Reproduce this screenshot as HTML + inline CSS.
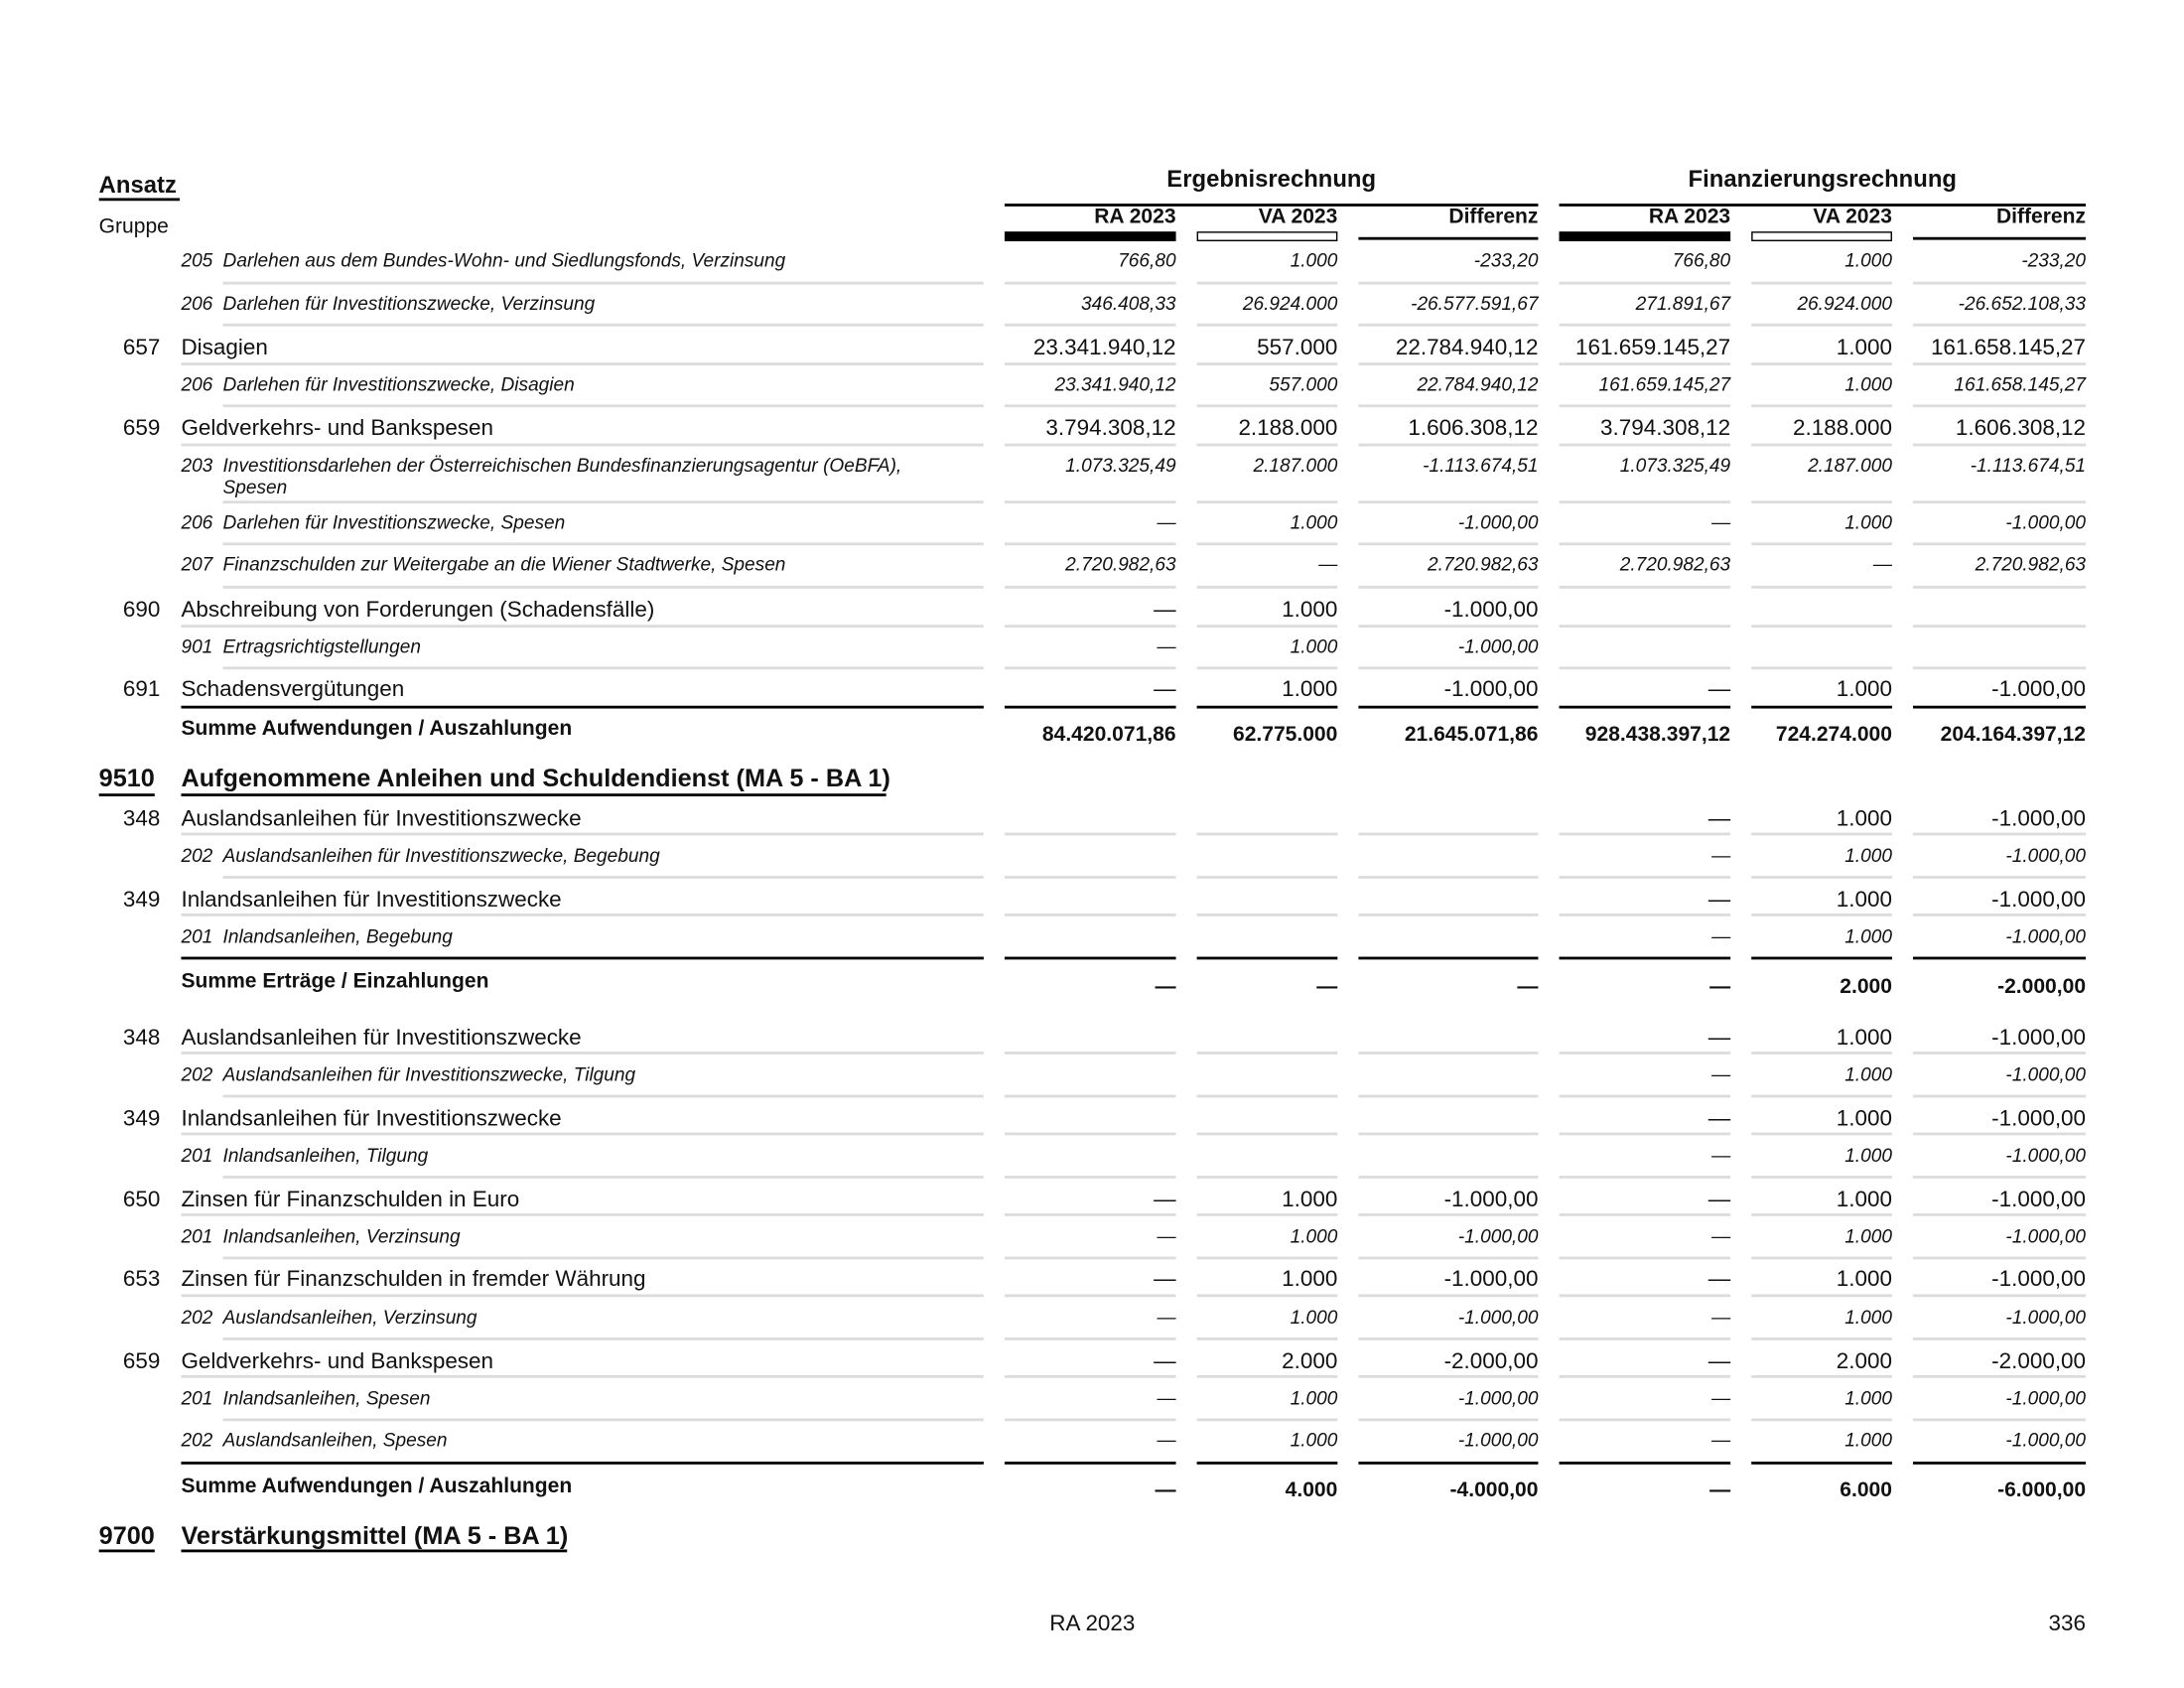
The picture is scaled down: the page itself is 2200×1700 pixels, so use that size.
<!DOCTYPE html>
<html><head><meta charset="utf-8"><style>
html,body{margin:0;padding:0;background:#fff;}
body{width:2200px;height:1700px;overflow:hidden;position:relative;}
#p{position:absolute;left:0;top:0;width:1552px;height:1200px;transform:scale(1.4035,1.4046);transform-origin:0 0;font-family:"Liberation Sans",Arial,sans-serif;color:#111;}
.t{position:absolute;white-space:nowrap;line-height:20px;}
.R{position:absolute;left:0;width:1552px;height:20px;line-height:20px;}
.R span{position:absolute;top:0;text-align:right;white-space:nowrap;}
.n1{left:701px;width:143px}.n2{left:839px;width:121px}.n3{left:955px;width:149px}
.n4{left:1099px;width:143px}.n5{left:1237px;width:121px}.n6{left:1353px;width:144px}
.m{font-size:16px}.s{font-size:13.6px;font-style:italic}.b{font-size:15px;font-weight:bold}
.cd{position:absolute;text-align:right;width:55px;left:60px}
.L{position:absolute;left:0;width:1552px;height:2px}
.L i{position:absolute;top:0;height:2px;background:#dcdcdc}
.L.k i{background:#000}
.a{left:130px;width:576px}.as{left:160px;width:546px}
.c1{left:721px;width:123px}.c2{left:859px;width:101px}.c3{left:975px;width:129px}
.c4{left:1119px;width:123px}.c5{left:1257px;width:101px}.c6{left:1373px;width:124px}
.u{position:absolute;height:2px;background:#000}
</style></head><body><div id="p">
<div class="t" style="left:71px;top:123px;font-size:17px;font-weight:bold">Ansatz</div>
<div class="u" style="left:71px;top:142px;width:58px"></div>
<div class="t" style="left:71px;top:153px;font-size:15px">Gruppe</div>
<div class="t" style="left:721px;width:383px;text-align:center;top:119px;font-size:17px;font-weight:bold">Ergebnisrechnung</div>
<div class="t" style="left:1119px;width:378px;text-align:center;top:119px;font-size:17px;font-weight:bold">Finanzierungsrechnung</div>
<div class="u" style="left:721px;top:146px;width:383px"></div>
<div class="u" style="left:1119px;top:146px;width:378px"></div>
<div class="R b" style="top:146px"><span class="n1">RA 2023</span><span class="n2">VA 2023</span><span class="n3">Differenz</span><span class="n4">RA 2023</span><span class="n5">VA 2023</span><span class="n6">Differenz</span></div>
<div class="u" style="left:721px;top:166px;width:123px;height:7px"></div>
<div class="u" style="left:859px;top:166px;width:99px;height:5px;background:#fff;border:1px solid #000"></div>
<div class="u" style="left:975px;top:170px;width:129px"></div>
<div class="u" style="left:1119px;top:166px;width:123px;height:7px"></div>
<div class="u" style="left:1257px;top:166px;width:99px;height:5px;background:#fff;border:1px solid #000"></div>
<div class="u" style="left:1373px;top:170px;width:124px"></div>

<div class="t s" style="left:130px;top:177px">205</div><div class="t s" style="left:160px;top:177px">Darlehen aus dem Bundes-Wohn- und Siedlungsfonds, Verzinsung</div>
<div class="R s" style="top:177px"><span class="n1">766,80</span><span class="n2">1.000</span><span class="n3">-233,20</span><span class="n4">766,80</span><span class="n5">1.000</span><span class="n6">-233,20</span></div>
<div class="L" style="top:202px"><i class="as"></i><i class="c1"></i><i class="c2"></i><i class="c3"></i><i class="c4"></i><i class="c5"></i><i class="c6"></i></div>
<div class="t s" style="left:130px;top:208px">206</div><div class="t s" style="left:160px;top:208px">Darlehen für Investitionszwecke, Verzinsung</div>
<div class="R s" style="top:208px"><span class="n1">346.408,33</span><span class="n2">26.924.000</span><span class="n3">-26.577.591,67</span><span class="n4">271.891,67</span><span class="n5">26.924.000</span><span class="n6">-26.652.108,33</span></div>
<div class="L" style="top:232px"><i class="as"></i><i class="c1"></i><i class="c2"></i><i class="c3"></i><i class="c4"></i><i class="c5"></i><i class="c6"></i></div>
<div class="t m cd" style="top:240px">657</div><div class="t m" style="left:130px;top:240px">Disagien</div>
<div class="R m" style="top:240px"><span class="n1">23.341.940,12</span><span class="n2">557.000</span><span class="n3">22.784.940,12</span><span class="n4">161.659.145,27</span><span class="n5">1.000</span><span class="n6">161.658.145,27</span></div>
<div class="L" style="top:260px"><i class="a"></i><i class="c1"></i><i class="c2"></i><i class="c3"></i><i class="c4"></i><i class="c5"></i><i class="c6"></i></div>
<div class="t s" style="left:130px;top:266px">206</div><div class="t s" style="left:160px;top:266px">Darlehen für Investitionszwecke, Disagien</div>
<div class="R s" style="top:266px"><span class="n1">23.341.940,12</span><span class="n2">557.000</span><span class="n3">22.784.940,12</span><span class="n4">161.659.145,27</span><span class="n5">1.000</span><span class="n6">161.658.145,27</span></div>
<div class="L" style="top:290px"><i class="as"></i><i class="c1"></i><i class="c2"></i><i class="c3"></i><i class="c4"></i><i class="c5"></i><i class="c6"></i></div>
<div class="t m cd" style="top:298px">659</div><div class="t m" style="left:130px;top:298px">Geldverkehrs- und Bankspesen</div>
<div class="R m" style="top:298px"><span class="n1">3.794.308,12</span><span class="n2">2.188.000</span><span class="n3">1.606.308,12</span><span class="n4">3.794.308,12</span><span class="n5">2.188.000</span><span class="n6">1.606.308,12</span></div>
<div class="L" style="top:318px"><i class="a"></i><i class="c1"></i><i class="c2"></i><i class="c3"></i><i class="c4"></i><i class="c5"></i><i class="c6"></i></div>
<div class="t s" style="left:130px;top:324px">203</div><div class="t s" style="left:160px;top:324px">Investitionsdarlehen der Österreichischen Bundesfinanzierungsagentur (OeBFA),</div>
<div class="t s" style="left:160px;top:340px">Spesen</div>
<div class="R s" style="top:324px"><span class="n1">1.073.325,49</span><span class="n2">2.187.000</span><span class="n3">-1.113.674,51</span><span class="n4">1.073.325,49</span><span class="n5">2.187.000</span><span class="n6">-1.113.674,51</span></div>
<div class="L" style="top:359px"><i class="as"></i><i class="c1"></i><i class="c2"></i><i class="c3"></i><i class="c4"></i><i class="c5"></i><i class="c6"></i></div>
<div class="t s" style="left:130px;top:365px">206</div><div class="t s" style="left:160px;top:365px">Darlehen für Investitionszwecke, Spesen</div>
<div class="R s" style="top:365px"><span class="n1">—</span><span class="n2">1.000</span><span class="n3">-1.000,00</span><span class="n4">—</span><span class="n5">1.000</span><span class="n6">-1.000,00</span></div>
<div class="L" style="top:389px"><i class="as"></i><i class="c1"></i><i class="c2"></i><i class="c3"></i><i class="c4"></i><i class="c5"></i><i class="c6"></i></div>
<div class="t s" style="left:130px;top:395px">207</div><div class="t s" style="left:160px;top:395px">Finanzschulden zur Weitergabe an die Wiener Stadtwerke, Spesen</div>
<div class="R s" style="top:395px"><span class="n1">2.720.982,63</span><span class="n2">—</span><span class="n3">2.720.982,63</span><span class="n4">2.720.982,63</span><span class="n5">—</span><span class="n6">2.720.982,63</span></div>
<div class="L" style="top:420px"><i class="as"></i><i class="c1"></i><i class="c2"></i><i class="c3"></i><i class="c4"></i><i class="c5"></i><i class="c6"></i></div>
<div class="t m cd" style="top:428px">690</div><div class="t m" style="left:130px;top:428px">Abschreibung von Forderungen (Schadensfälle)</div>
<div class="R m" style="top:428px"><span class="n1">—</span><span class="n2">1.000</span><span class="n3">-1.000,00</span></div>
<div class="L" style="top:448px"><i class="a"></i><i class="c1"></i><i class="c2"></i><i class="c3"></i><i class="c4"></i><i class="c5"></i><i class="c6"></i></div>
<div class="t s" style="left:130px;top:454px">901</div><div class="t s" style="left:160px;top:454px">Ertragsrichtigstellungen</div>
<div class="R s" style="top:454px"><span class="n1">—</span><span class="n2">1.000</span><span class="n3">-1.000,00</span></div>
<div class="L" style="top:478px"><i class="as"></i><i class="c1"></i><i class="c2"></i><i class="c3"></i><i class="c4"></i><i class="c5"></i><i class="c6"></i></div>
<div class="t m cd" style="top:485px">691</div><div class="t m" style="left:130px;top:485px">Schadensvergütungen</div>
<div class="R m" style="top:485px"><span class="n1">—</span><span class="n2">1.000</span><span class="n3">-1.000,00</span><span class="n4">—</span><span class="n5">1.000</span><span class="n6">-1.000,00</span></div>
<div class="L k" style="top:506px"><i class="a"></i><i class="c1"></i><i class="c2"></i><i class="c3"></i><i class="c4"></i><i class="c5"></i><i class="c6"></i></div>
<div class="t b" style="left:130px;top:513px">Summe Aufwendungen / Auszahlungen</div>
<div class="R b" style="top:517px"><span class="n1">84.420.071,86</span><span class="n2">62.775.000</span><span class="n3">21.645.071,86</span><span class="n4">928.438.397,12</span><span class="n5">724.274.000</span><span class="n6">204.164.397,12</span></div>
<div class="t" style="left:71px;top:548px;font-size:18px;font-weight:bold">9510</div>
<div class="t" style="left:130px;top:548px;font-size:18px;font-weight:bold">Aufgenommene Anleihen und Schuldendienst (MA 5 - BA 1)</div>
<div class="u" style="left:71px;top:569px;width:40px"></div>
<div class="u" style="left:130px;top:569px;width:506px"></div>
<div class="t m cd" style="top:578px">348</div><div class="t m" style="left:130px;top:578px">Auslandsanleihen für Investitionszwecke</div>
<div class="R m" style="top:578px"><span class="n4">—</span><span class="n5">1.000</span><span class="n6">-1.000,00</span></div>
<div class="L" style="top:597px"><i class="a"></i><i class="c1"></i><i class="c2"></i><i class="c3"></i><i class="c4"></i><i class="c5"></i><i class="c6"></i></div>
<div class="t s" style="left:130px;top:604px">202</div><div class="t s" style="left:160px;top:604px">Auslandsanleihen für Investitionszwecke, Begebung</div>
<div class="R s" style="top:604px"><span class="n4">—</span><span class="n5">1.000</span><span class="n6">-1.000,00</span></div>
<div class="L" style="top:628px"><i class="as"></i><i class="c1"></i><i class="c2"></i><i class="c3"></i><i class="c4"></i><i class="c5"></i><i class="c6"></i></div>
<div class="t m cd" style="top:636px">349</div><div class="t m" style="left:130px;top:636px">Inlandsanleihen für Investitionszwecke</div>
<div class="R m" style="top:636px"><span class="n4">—</span><span class="n5">1.000</span><span class="n6">-1.000,00</span></div>
<div class="L" style="top:655px"><i class="a"></i><i class="c1"></i><i class="c2"></i><i class="c3"></i><i class="c4"></i><i class="c5"></i><i class="c6"></i></div>
<div class="t s" style="left:130px;top:662px">201</div><div class="t s" style="left:160px;top:662px">Inlandsanleihen, Begebung</div>
<div class="R s" style="top:662px"><span class="n4">—</span><span class="n5">1.000</span><span class="n6">-1.000,00</span></div>
<div class="L k" style="top:686px"><i class="a"></i><i class="c1"></i><i class="c2"></i><i class="c3"></i><i class="c4"></i><i class="c5"></i><i class="c6"></i></div>
<div class="t b" style="left:130px;top:694px">Summe Erträge / Einzahlungen</div>
<div class="R b" style="top:698px"><span class="n1">—</span><span class="n2">—</span><span class="n3">—</span><span class="n4">—</span><span class="n5">2.000</span><span class="n6">-2.000,00</span></div>
<div class="t m cd" style="top:735px">348</div><div class="t m" style="left:130px;top:735px">Auslandsanleihen für Investitionszwecke</div>
<div class="R m" style="top:735px"><span class="n4">—</span><span class="n5">1.000</span><span class="n6">-1.000,00</span></div>
<div class="L" style="top:754px"><i class="a"></i><i class="c1"></i><i class="c2"></i><i class="c3"></i><i class="c4"></i><i class="c5"></i><i class="c6"></i></div>
<div class="t s" style="left:130px;top:761px">202</div><div class="t s" style="left:160px;top:761px">Auslandsanleihen für Investitionszwecke, Tilgung</div>
<div class="R s" style="top:761px"><span class="n4">—</span><span class="n5">1.000</span><span class="n6">-1.000,00</span></div>
<div class="L" style="top:785px"><i class="as"></i><i class="c1"></i><i class="c2"></i><i class="c3"></i><i class="c4"></i><i class="c5"></i><i class="c6"></i></div>
<div class="t m cd" style="top:793px">349</div><div class="t m" style="left:130px;top:793px">Inlandsanleihen für Investitionszwecke</div>
<div class="R m" style="top:793px"><span class="n4">—</span><span class="n5">1.000</span><span class="n6">-1.000,00</span></div>
<div class="L" style="top:812px"><i class="a"></i><i class="c1"></i><i class="c2"></i><i class="c3"></i><i class="c4"></i><i class="c5"></i><i class="c6"></i></div>
<div class="t s" style="left:130px;top:819px">201</div><div class="t s" style="left:160px;top:819px">Inlandsanleihen, Tilgung</div>
<div class="R s" style="top:819px"><span class="n4">—</span><span class="n5">1.000</span><span class="n6">-1.000,00</span></div>
<div class="L" style="top:843px"><i class="as"></i><i class="c1"></i><i class="c2"></i><i class="c3"></i><i class="c4"></i><i class="c5"></i><i class="c6"></i></div>
<div class="t m cd" style="top:851px">650</div><div class="t m" style="left:130px;top:851px">Zinsen für Finanzschulden in Euro</div>
<div class="R m" style="top:851px"><span class="n1">—</span><span class="n2">1.000</span><span class="n3">-1.000,00</span><span class="n4">—</span><span class="n5">1.000</span><span class="n6">-1.000,00</span></div>
<div class="L" style="top:870px"><i class="a"></i><i class="c1"></i><i class="c2"></i><i class="c3"></i><i class="c4"></i><i class="c5"></i><i class="c6"></i></div>
<div class="t s" style="left:130px;top:877px">201</div><div class="t s" style="left:160px;top:877px">Inlandsanleihen, Verzinsung</div>
<div class="R s" style="top:877px"><span class="n1">—</span><span class="n2">1.000</span><span class="n3">-1.000,00</span><span class="n4">—</span><span class="n5">1.000</span><span class="n6">-1.000,00</span></div>
<div class="L" style="top:901px"><i class="as"></i><i class="c1"></i><i class="c2"></i><i class="c3"></i><i class="c4"></i><i class="c5"></i><i class="c6"></i></div>
<div class="t m cd" style="top:908px">653</div><div class="t m" style="left:130px;top:908px">Zinsen für Finanzschulden in fremder Währung</div>
<div class="R m" style="top:908px"><span class="n1">—</span><span class="n2">1.000</span><span class="n3">-1.000,00</span><span class="n4">—</span><span class="n5">1.000</span><span class="n6">-1.000,00</span></div>
<div class="L" style="top:928px"><i class="a"></i><i class="c1"></i><i class="c2"></i><i class="c3"></i><i class="c4"></i><i class="c5"></i><i class="c6"></i></div>
<div class="t s" style="left:130px;top:935px">202</div><div class="t s" style="left:160px;top:935px">Auslandsanleihen, Verzinsung</div>
<div class="R s" style="top:935px"><span class="n1">—</span><span class="n2">1.000</span><span class="n3">-1.000,00</span><span class="n4">—</span><span class="n5">1.000</span><span class="n6">-1.000,00</span></div>
<div class="L" style="top:959px"><i class="as"></i><i class="c1"></i><i class="c2"></i><i class="c3"></i><i class="c4"></i><i class="c5"></i><i class="c6"></i></div>
<div class="t m cd" style="top:967px">659</div><div class="t m" style="left:130px;top:967px">Geldverkehrs- und Bankspesen</div>
<div class="R m" style="top:967px"><span class="n1">—</span><span class="n2">2.000</span><span class="n3">-2.000,00</span><span class="n4">—</span><span class="n5">2.000</span><span class="n6">-2.000,00</span></div>
<div class="L" style="top:986px"><i class="a"></i><i class="c1"></i><i class="c2"></i><i class="c3"></i><i class="c4"></i><i class="c5"></i><i class="c6"></i></div>
<div class="t s" style="left:130px;top:993px">201</div><div class="t s" style="left:160px;top:993px">Inlandsanleihen, Spesen</div>
<div class="R s" style="top:993px"><span class="n1">—</span><span class="n2">1.000</span><span class="n3">-1.000,00</span><span class="n4">—</span><span class="n5">1.000</span><span class="n6">-1.000,00</span></div>
<div class="L" style="top:1017px"><i class="as"></i><i class="c1"></i><i class="c2"></i><i class="c3"></i><i class="c4"></i><i class="c5"></i><i class="c6"></i></div>
<div class="t s" style="left:130px;top:1023px">202</div><div class="t s" style="left:160px;top:1023px">Auslandsanleihen, Spesen</div>
<div class="R s" style="top:1023px"><span class="n1">—</span><span class="n2">1.000</span><span class="n3">-1.000,00</span><span class="n4">—</span><span class="n5">1.000</span><span class="n6">-1.000,00</span></div>
<div class="L k" style="top:1048px"><i class="a"></i><i class="c1"></i><i class="c2"></i><i class="c3"></i><i class="c4"></i><i class="c5"></i><i class="c6"></i></div>
<div class="t b" style="left:130px;top:1056px">Summe Aufwendungen / Auszahlungen</div>
<div class="R b" style="top:1059px"><span class="n1">—</span><span class="n2">4.000</span><span class="n3">-4.000,00</span><span class="n4">—</span><span class="n5">6.000</span><span class="n6">-6.000,00</span></div>
<div class="t" style="left:71px;top:1091px;font-size:18px;font-weight:bold">9700</div>
<div class="t" style="left:130px;top:1091px;font-size:18px;font-weight:bold">Verstärkungsmittel (MA 5 - BA 1)</div>
<div class="u" style="left:71px;top:1111px;width:40px"></div>
<div class="u" style="left:130px;top:1111px;width:277px"></div>
<div class="t" style="left:684px;width:200px;text-align:center;top:1155px;font-size:16px">RA 2023</div>
<div class="t" style="left:1397px;width:100px;text-align:right;top:1155px;font-size:16px">336</div>
</div></body></html>
